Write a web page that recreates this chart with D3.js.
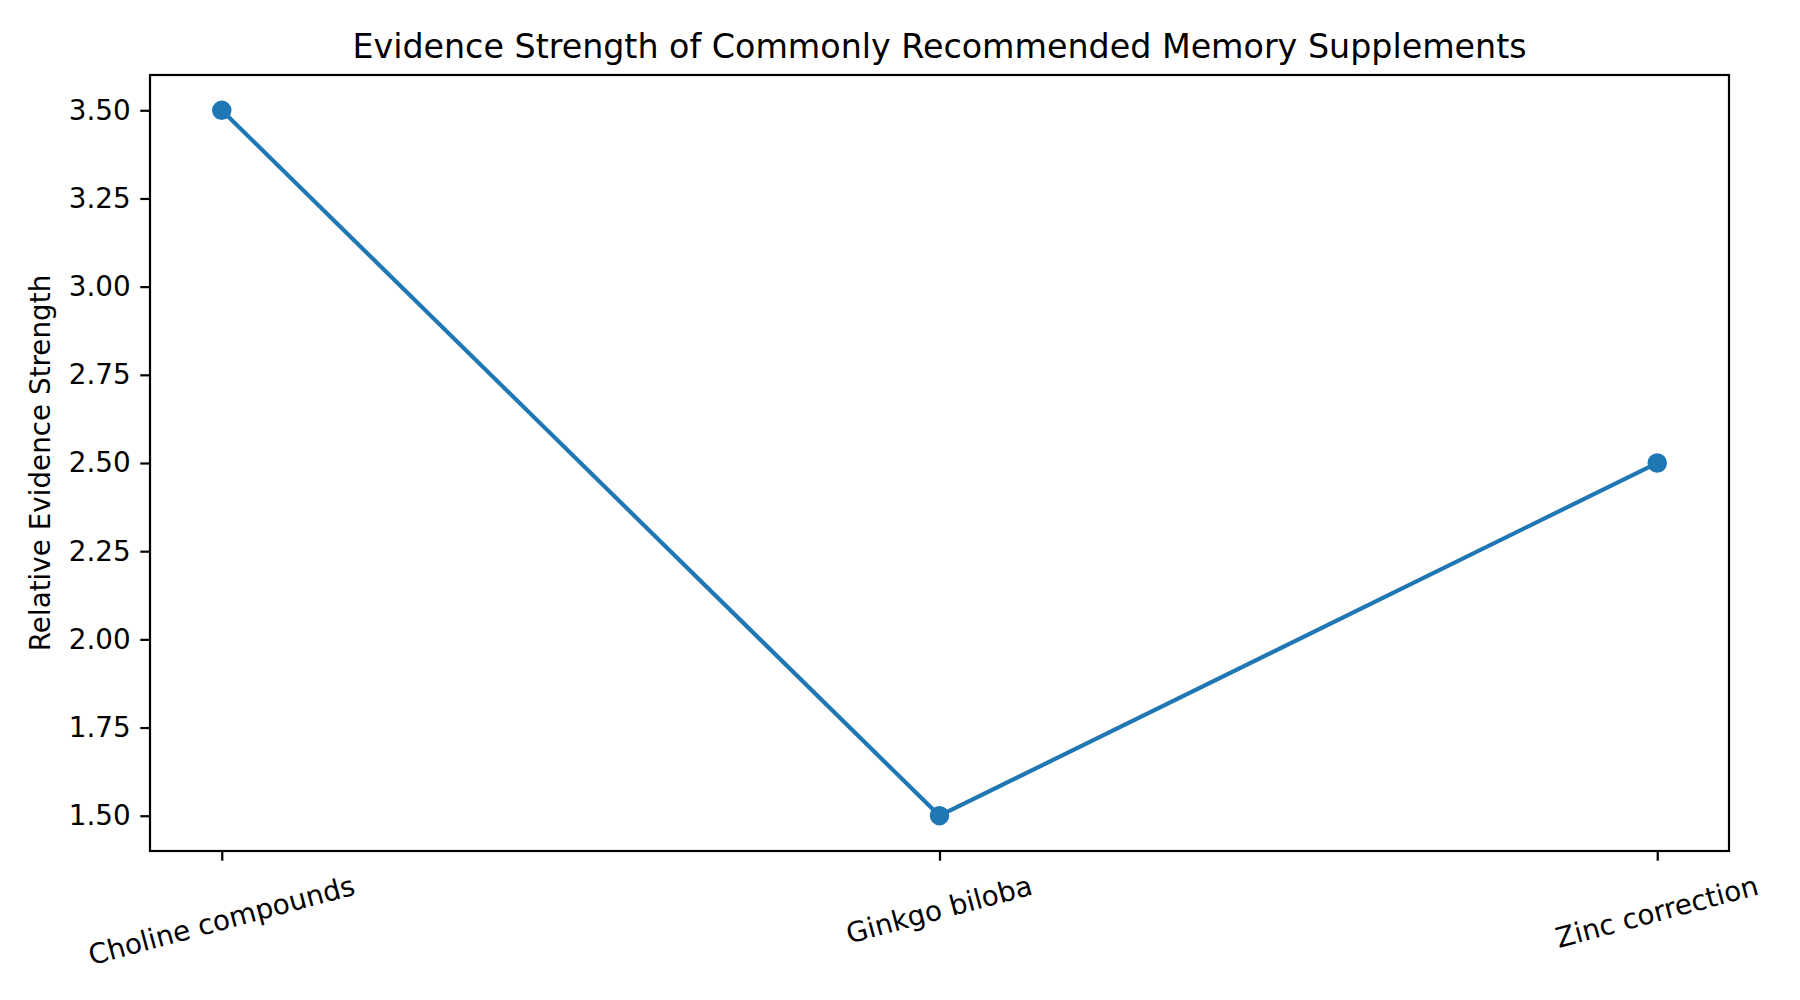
<!DOCTYPE html>
<html>
<head>
<meta charset="utf-8">
<script src="https://cdn.jsdelivr.net/npm/d3@7"></script>
<style>
  body { margin: 0; background: #fff; }
  svg { display: block; font-family: "DejaVu Sans", sans-serif; }
</style>
</head>
<body>
<svg id="chart" width="1800" height="1000"></svg>
<script>
// data
const supplements = ['Choline compounds', 'Ginkgo biloba', 'Zinc correction'];
const evidence = [3.5, 1.5, 2.5];
const yTicks = [1.5, 1.75, 2.0, 2.25, 2.5, 2.75, 3.0, 3.25, 3.5];

const width = 1800, height = 1000;
const margin = { top: 75, right: 71, bottom: 149, left: 150 };
const _width = width - margin.left - margin.right;
const _height = height - margin.top - margin.bottom;
const fs = 27.8;       // 10pt @ 200dpi
const tickLen = 9.7;
const tickPad = 9.7;
const blue = '#1f77b4';

const svg = d3.select('#chart');
const g = svg.append('g').attr('transform', `translate(${margin.left},${margin.top})`);

const xScale = d3.scaleLinear().domain([-0.1, 2.1]).range([0, _width]);
const yScale = d3.scaleLinear().domain([1.4, 3.6]).range([_height, 0]);

const values = supplements.map((name, i) => ({ name, i, value: evidence[i] }));

// y axis
const yAxis = d3.axisLeft(yScale)
    .tickValues(yTicks)
    .tickFormat(d3.format('.2f'))
    .tickSize(tickLen)
    .tickPadding(tickPad);
const yg = g.append('g').call(yAxis);
yg.select('.domain').remove();
yg.selectAll('.tick line').attr('stroke', '#000').attr('stroke-width', 2.2);
yg.selectAll('.tick text')
    .attr('fill', '#000')
    .style('font-size', fs + 'px')
    .style('font-family', '"DejaVu Sans", sans-serif');

// x axis (ticks only, labels done by hand for matplotlib-like rotation)
const xAxis = d3.axisBottom(xScale)
    .tickValues(values.map((d) => d.i))
    .tickFormat('')
    .tickSize(tickLen);
const xg = g.append('g').attr('transform', `translate(0,${_height})`).call(xAxis);
xg.select('.domain').remove();
xg.selectAll('.tick line').attr('stroke', '#000').attr('stroke-width', 2.2);

// rotated tick labels, bbox top-centred under each tick
const rot = 15 * Math.PI / 180;
const labelTop = _height + tickLen + tickPad;
values.forEach((d) => {
    const t = g.append('text')
        .attr('text-anchor', 'middle')
        .style('font-size', fs + 'px')
        .attr('fill', '#000')
        .text(d.name);
    const w = t.node().getComputedTextLength();
    const h = fs * 1.17;
    const H = w * Math.sin(rot) + h * Math.cos(rot);
    const cx = xScale(d.i);
    const cy = labelTop + H / 2;
    t.attr('x', cx).attr('y', cy).attr('dy', '0.3em')
        .attr('transform', `rotate(-15,${cx},${cy})`);
});

// frame
g.append('rect')
    .attr('x', 0).attr('y', 0)
    .attr('width', _width).attr('height', _height)
    .attr('fill', 'none')
    .attr('stroke', '#000')
    .attr('stroke-width', 2.2);

// line + markers
const line = d3.line()
    .x((d) => xScale(d.i))
    .y((d) => yScale(d.value));

g.append('path')
    .datum(values)
    .attr('d', line)
    .attr('fill', 'none')
    .attr('stroke', blue)
    .attr('stroke-width', 4.17)
    .attr('stroke-linejoin', 'round')
    .attr('stroke-linecap', 'square');

g.selectAll('.dot')
    .data(values)
    .enter()
    .append('circle')
    .attr('class', 'dot')
    .attr('cx', (d) => xScale(d.i))
    .attr('cy', (d) => yScale(d.value))
    .attr('r', 8.35)
    .attr('fill', blue)
    .attr('stroke', blue)
    .attr('stroke-width', 2.8);

// title
svg.append('text')
    .attr('x', margin.left + _width / 2)
    .attr('y', 58)
    .attr('text-anchor', 'middle')
    .style('font-size', '33.3px')
    .attr('fill', '#000')
    .text('Evidence Strength of Commonly Recommended Memory Supplements');

// y label
svg.append('text')
    .attr('transform', `translate(50,${margin.top + _height / 2}) rotate(-90)`)
    .attr('text-anchor', 'middle')
    .style('font-size', fs + 'px')
    .attr('fill', '#000')
    .text('Relative Evidence Strength');
</script>
</body>
</html>
